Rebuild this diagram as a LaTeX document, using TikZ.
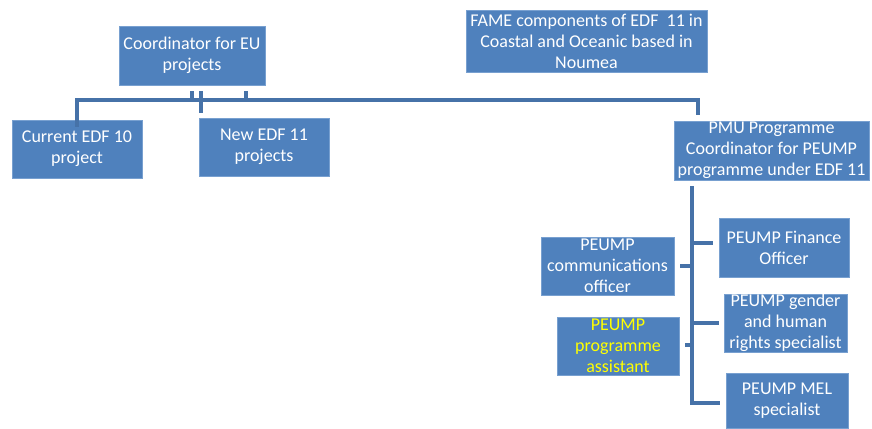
\documentclass[tikz,border=0pt]{standalone}
\usepackage{fontspec}
\setmainfont{Carlito}
\usepackage{tikz}

\begin{document}
\begin{tikzpicture}[x=1pt,y=1pt,yscale=-1,
  orgbox/.style={fill={rgb,255:red,79;green,129;blue,189},draw={rgb,255:red,120;green,160;blue,208},line width=0.6pt,
    text=white,align=center,inner sep=0pt,font=\fontsize{18}{21}\selectfont},
  link/.style={draw={rgb,255:red,70;green,114;blue,168},line width=4.5pt}]
\useasboundingbox (0,0) rectangle (872,428);

% Top level boxes
\node (coord) [orgbox,minimum width=146,minimum height=59] at (192,55.5) {Coordinator for EU\\projects};
\node (fame) [orgbox,minimum width=241,minimum height=62] at (586.5,41) {FAME components of EDF~~11 in\\Coastal and Oceanic based in\\Noumea};
\node (cur) [orgbox,minimum width=130,minimum height=58] at (77,149) {Current EDF 10\\project};
\node (new) [orgbox,minimum width=130,minimum height=58] at (264,147) {New EDF 11\\projects};
\node (pmu) [orgbox,minimum width=195,minimum height=59] at (771.5,150.5) {PMU Programme\\Coordinator for PEUMP\\programme under EDF 11};

% PEUMP team
\node (comm) [orgbox,minimum width=133,minimum height=58] at (607.5,266) {PEUMP\\communications\\officer};
\node (asst) [orgbox,minimum width=122,minimum height=58,text={rgb,255:red,255;green,255;blue,0}] at (618,346) {PEUMP\\programme\\assistant};
\node (fin) [orgbox,minimum width=130,minimum height=59] at (784,247.5) {PEUMP Finance\\Officer};
\node (gen) [orgbox,minimum width=123,minimum height=58] at (785.5,323) {PEUMP gender\\and human\\rights specialist};
\node (mel) [orgbox,minimum width=122,minimum height=55] at (787,400.5) {PEUMP MEL\\specialist};

% Bus under the coordinator
\coordinate (busL) at (77,100);
\coordinate (busR) at (698,100);
\coordinate (pmuIn) at (698,115);
\draw[link] ([yshift=7pt]cur.north) -- (busL) -- (busR) -- (pmuIn);
\draw[link] (192,91) -- (192,100);
\draw[link] (201,91) -- (201,113);
\draw[link] (246,91) -- (246,100);

% Spine from the PMU coordinator
\coordinate (spineTop) at (692,186);
\coordinate (spineBot) at (692,403);
\draw[link] (spineTop) -- (spineBot) -- (720,403);
\draw[link] (692,243) -- (713,243);
\draw[link] (spineTop |- gen.west) -- ([xshift=-5pt]gen.west);
\draw[link] (spineTop |- comm.east) -- ([xshift=6pt]comm.east);
\draw[link] (692,345) -- (685,345);

\end{tikzpicture}
\end{document}
